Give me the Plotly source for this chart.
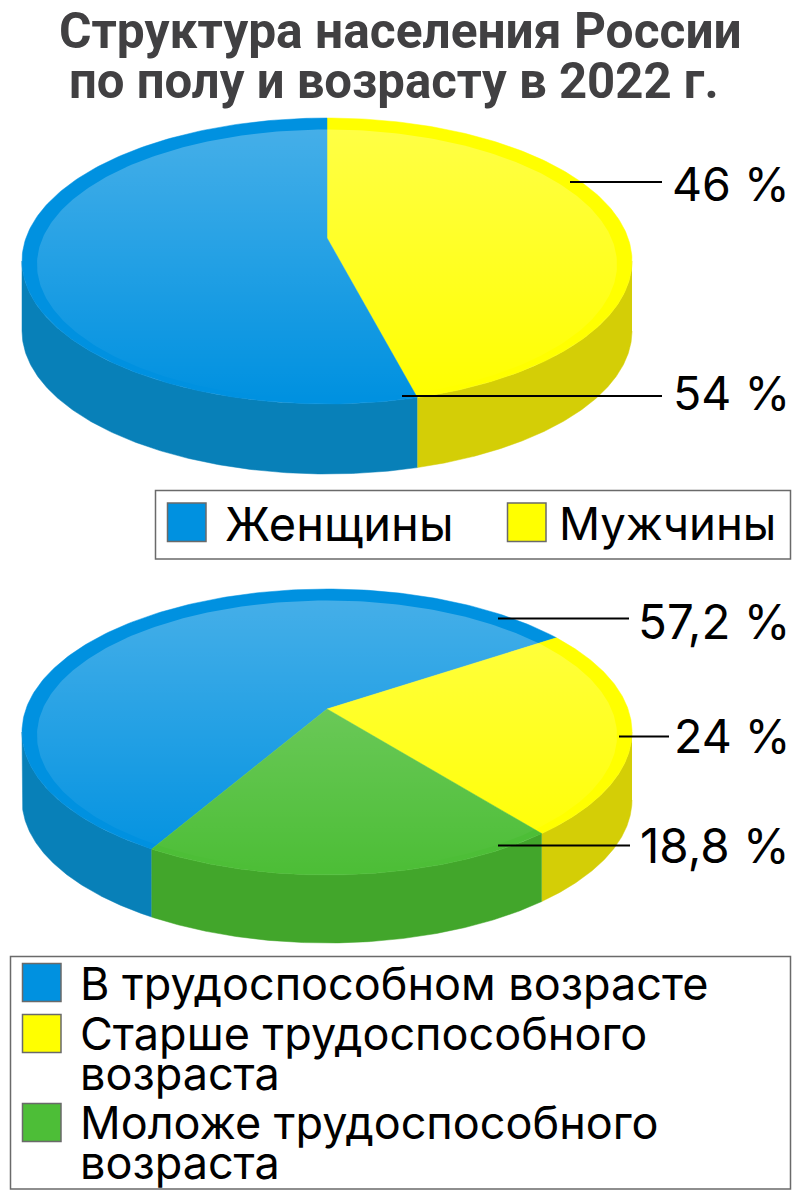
import numpy as np
import plotly.graph_objects as go

title_lines = ["Структура населения России", "по полу и возрасту в 2022 г."]

gender_names = ["Женщины", "Мужчины"]
gender_values = [54, 46]
gender_labels = ["54 %", "46 %"]

age_names = ["В трудоспособном возрасте", "Старше трудоспособного возраста", "Моложе трудоспособного возраста"]
age_values = [57.2, 24, 18.8]
age_labels = ["57,2 %", "24 %", "18,8 %"]

BLUE, YELLOW, GREEN = "#0091E0", "#FFFF00", "#4DBE37"
SIDE = {BLUE: "#0880B8", YELLOW: "#D4CE06", GREEN: "#42A62B"}

CX, RX, RY, TILT = 327.0, 305.0, 143.0, 23.0
PERSP = TILT * 2 / (2 * RY)
FONT = "Inter"


def project(deg):
    """clockwise angle from the top of the flat disc -> ellipse offset (perspective)"""
    a = np.radians(deg)
    u, v = np.sin(a), -np.cos(a)
    den = 1 - PERSP * v
    k = RX * np.sqrt(1 - PERSP ** 2) * 1.02
    return k * u / den, (RY * v - TILT) / den


def ell_param(deg):
    x, y = project(deg)
    return np.degrees(np.arctan2(x / RX, -y / RY)) % 360


def arc(t0, t1, cy):
    t = np.radians(np.linspace(t0, t1, 200))
    return CX + RX * np.sin(t), cy + (-RY * np.cos(t))


def add_pie(fig, cy, values, colors, start, depth):
    total = sum(values)
    a0 = start
    spans = []
    for v, c in zip(values, colors):
        a1 = a0 + v / total * 360
        t0 = ell_param(a0)
        t1 = ell_param(a1)
        while t1 <= t0:
            t1 += 360
        spans.append((t0, t1, c))
        a0 = a1
    # side walls
    for t0, t1, c in spans:
        for shift in (0, 360):
            lo, hi = max(t0, 90 + shift), min(t1, 270 + shift)
            if hi > lo:
                x, y = arc(lo, hi, cy)
                fig.add_trace(go.Scatter(
                    x=np.r_[x, x[::-1]], y=np.r_[y, y[::-1] + depth],
                    mode="lines", fill="toself", fillcolor=SIDE[c], line=dict(width=0.5, color=SIDE[c]),
                    hoverinfo="skip", showlegend=False))
    # top slices
    for t0, t1, c in spans:
        x, y = arc(t0, t1, cy)
        fig.add_trace(go.Scatter(
            x=np.r_[CX, x, CX], y=np.r_[cy - TILT, y, cy - TILT],
            mode="lines", fill="toself", fillcolor=c, line=dict(width=0.5, color=c),
            hoverinfo="skip", showlegend=False))
    # inner gloss
    inner_cy = cy + 3.5
    t = np.radians(np.linspace(0, 360, 400))
    ytop, ybot = inner_cy - 135, inner_cy + 135
    fig.add_trace(go.Scatter(
        x=CX + 290 * np.sin(t), y=inner_cy - 135 * np.cos(t),
        mode="lines", fill="toself", line=dict(width=0),
        fillgradient=dict(type="vertical", start=ytop, stop=ybot,
                          colorscale=[[0, "rgba(255,255,255,0.27)"], [1, "rgba(255,255,255,0)"]]),
        hoverinfo="skip", showlegend=False))


fig = go.Figure()
add_pie(fig, 261.0, gender_values[::-1], [YELLOW, BLUE], 0, 70)
add_pie(fig, 732.0, age_values, [BLUE, YELLOW, GREEN], 209.6, 68)

shapes = []
annots = []


def text(s, x, y, size, anchor="left", color="#000", bold=False):
    annots.append(dict(text=("<b>%s</b>" % s) if bold else s, x=x, y=y, xref="x", yref="y",
                       xanchor=anchor, yanchor="middle", showarrow=False,
                       font=dict(family=FONT if not bold else "Roboto", size=size, color=color)))


def line(x0, x1, y):
    shapes.append(dict(type="line", x0=x0, x1=x1, y0=y, y1=y, line=dict(color="#000", width=2), layer="above"))


def rect(x0, y0, x1, y1, fill):
    shapes.append(dict(type="rect", x0=x0, x1=x1, y0=y0, y1=y1, fillcolor=fill,
                       line=dict(color="#6A6A6A", width=1.5), layer="above"))


text(title_lines[0], 400.5, 31, 49.7, "center", "#414042", True)
text(title_lines[1], 394, 81, 49.1, "center", "#414042", True)

line(570, 662, 182)
line(402, 662, 396)
line(498, 629, 618.5)
line(619, 669, 736.5)
line(498, 630, 845.5)
text(gender_labels[1], 792, 184, 46.5, "right")
text(gender_labels[0], 792, 393, 46.5, "right")
text(age_labels[0], 792, 621, 47.5, "right")
text(age_labels[1], 792, 736, 46.5, "right")
text(age_labels[2], 792, 845, 47.5, "right")

rect(155.5, 490.5, 790.5, 559, "rgba(0,0,0,0)")
rect(167.5, 503, 206, 541.5, BLUE)
rect(507.5, 503, 546, 541.5, YELLOW)
text(gender_names[0], 223, 523, 47)
text(gender_names[1], 557, 523, 45.5)

rect(10.5, 956.5, 790.5, 1189, "rgba(0,0,0,0)")
rect(22.5, 963.5, 61, 1001.5, BLUE)
rect(22.5, 1014.5, 61, 1052.5, YELLOW)
rect(22.5, 1103.5, 61, 1141.5, GREEN)
text(age_names[0], 78, 983, 45)
w = age_names[1].rsplit(" ", 1)
text(w[0], 78, 1033, 45)
text(w[1], 78, 1073, 45)
w = age_names[2].rsplit(" ", 1)
text(w[0], 78, 1122, 45)
text(w[1], 78, 1162, 45)

fig.update_layout(
    width=800, height=1200, margin=dict(l=0, r=0, t=0, b=0),
    paper_bgcolor="white", plot_bgcolor="white", showlegend=False, hovermode=False,
    xaxis=dict(range=[0, 800], visible=False, fixedrange=True),
    yaxis=dict(range=[1200, 0], visible=False, fixedrange=True),
    shapes=shapes, annotations=annots,
)
fig.write_html("out.html", post_script="document.body.style.margin='0';", config={"displayModeBar": False})
